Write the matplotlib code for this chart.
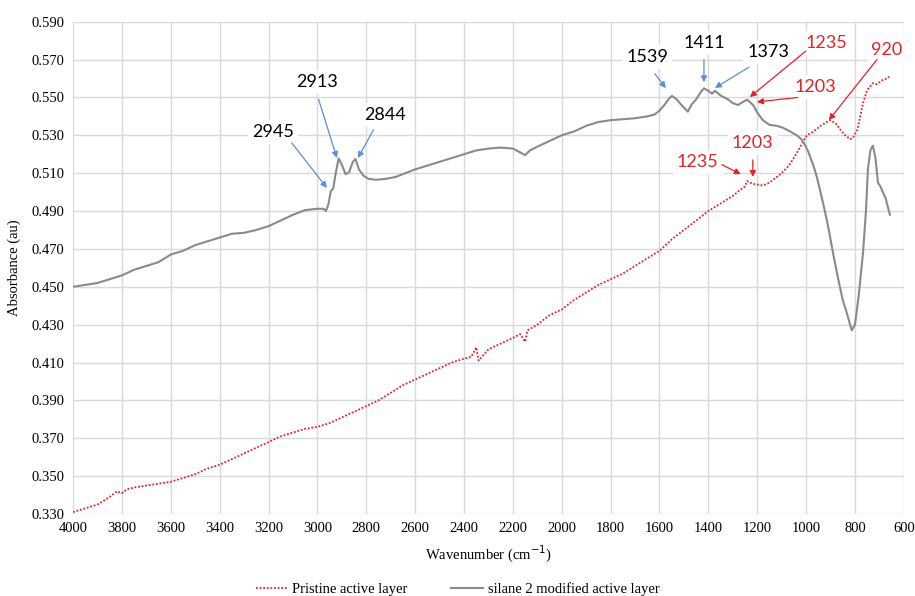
import numpy as np
import matplotlib
matplotlib.use("Agg")
import matplotlib.pyplot as plt

# silane 2 modified active layer (gray)
wn_silane = [4000, 3950, 3900, 3850, 3800, 3750, 3700, 3650, 3600, 3550, 3500, 3450,
             3400, 3350, 3300, 3250, 3200, 3150, 3100, 3050, 3000, 2975, 2965, 2955,
             2945, 2935, 2925, 2913, 2900, 2885, 2870, 2855, 2844, 2830, 2810, 2790,
             2760, 2720, 2680, 2640, 2600, 2550, 2500, 2450, 2400, 2350, 2300, 2250,
             2200, 2170, 2150, 2130, 2100, 2050, 2000, 1950, 1900, 1850, 1800, 1750,
             1700, 1650, 1620, 1600, 1580, 1560, 1549, 1530, 1510, 1495, 1484, 1470,
             1450, 1430, 1418, 1400, 1385, 1373, 1350, 1320, 1300, 1279, 1260, 1242,
             1225, 1214, 1200, 1177, 1150, 1120, 1095, 1065, 1038, 1020, 1009, 990,
             970, 956, 930, 910, 890, 870, 850, 833, 820, 813, 800, 785, 767, 755,
             747, 737, 727, 716, 706, 696, 686, 675, 665, 657]
abs_silane = [0.450, 0.451, 0.452, 0.454, 0.456, 0.459, 0.461, 0.463, 0.467, 0.469, 0.472, 0.474,
              0.476, 0.478, 0.4785, 0.480, 0.482, 0.485, 0.488, 0.4905, 0.4912, 0.4912, 0.4900, 0.4935,
              0.5005, 0.502, 0.510, 0.5178, 0.5145, 0.5095, 0.5105, 0.5160, 0.5175, 0.512, 0.5085, 0.507,
              0.5065, 0.507, 0.508, 0.510, 0.512, 0.514, 0.516, 0.518, 0.520, 0.522, 0.523, 0.5235,
              0.523, 0.521, 0.5195, 0.522, 0.524, 0.527, 0.530, 0.532, 0.535, 0.537, 0.538, 0.5385,
              0.539, 0.540, 0.541, 0.543, 0.546, 0.5495, 0.5508, 0.549, 0.546, 0.544, 0.5425, 0.546,
              0.549, 0.553, 0.5548, 0.5535, 0.552, 0.5535, 0.551, 0.549, 0.547, 0.546, 0.5475, 0.5488,
              0.547, 0.5455, 0.542, 0.538, 0.5355, 0.535, 0.534, 0.532, 0.530, 0.528, 0.526, 0.521,
              0.514, 0.508, 0.494, 0.482, 0.468, 0.455, 0.443, 0.436, 0.430, 0.427, 0.430, 0.445, 0.468, 0.490,
              0.512, 0.522, 0.5245, 0.518, 0.505, 0.503, 0.500, 0.497, 0.492, 0.488]

# pristine active layer (red dotted)
wn_pristine = [4000, 3950, 3900, 3850, 3820, 3800, 3780, 3750, 3700, 3650, 3600, 3550,
               3500, 3450, 3400, 3350, 3300, 3250, 3200, 3150, 3100, 3050, 3000, 2950,
               2900, 2850, 2800, 2750, 2700, 2650, 2600, 2550, 2500, 2450, 2400, 2370,
               2350, 2340, 2320, 2300, 2250, 2200, 2170, 2150, 2140, 2100, 2050, 2000,
               1950, 1900, 1850, 1800, 1750, 1700, 1650, 1600, 1550, 1500, 1450, 1400,
               1350, 1300, 1271, 1250, 1242, 1230, 1210, 1177, 1150, 1100, 1070, 1038,
               1015, 997, 970, 940, 903, 880, 860, 840, 820, 809, 790, 767, 750, 727,
               710, 690, 669, 660]
abs_pristine = [0.331, 0.333, 0.335, 0.339, 0.342, 0.341, 0.343, 0.344, 0.345, 0.346, 0.347, 0.349,
                0.351, 0.354, 0.356, 0.359, 0.362, 0.365, 0.368, 0.371, 0.373, 0.375, 0.376, 0.378,
                0.381, 0.384, 0.387, 0.390, 0.394, 0.398, 0.401, 0.404, 0.407, 0.410, 0.412, 0.413,
                0.418, 0.411, 0.414, 0.417, 0.420, 0.423, 0.425, 0.421, 0.427, 0.430, 0.435, 0.438,
                0.443, 0.447, 0.451, 0.454, 0.457, 0.461, 0.465, 0.469, 0.475, 0.480, 0.485, 0.490,
                0.494, 0.498, 0.501, 0.503, 0.5058, 0.505, 0.5042, 0.5035, 0.505, 0.510, 0.514, 0.5206,
                0.526, 0.530, 0.532, 0.535, 0.538, 0.5365, 0.533, 0.530, 0.528, 0.5285, 0.533, 0.547, 0.554, 0.5575,
                0.557, 0.559, 0.560, 0.561]

# peak labels: (text, text x, text y, arrow tail x, tail y, head x, head y)
labels_silane = [
    ("2945", 3182, 0.5317, 3105, 0.5260, 2961, 0.5022),
    ("2913", 3000, 0.5580, 2995, 0.5490, 2920, 0.5180),
    ("2844", 2723, 0.5407, 2770, 0.5330, 2834, 0.5180),
    ("1539", 1651, 0.5714, 1619, 0.5625, 1574, 0.5549),
    ("1411", 1418, 0.5790, 1418, 0.5700, 1418, 0.5580),
    ("1373", 1156, 0.5740, 1234, 0.5660, 1373, 0.5550),
]
labels_pristine = [
    ("1235", 915, 0.5787, 1001, 0.5745, 1230, 0.5502),
    ("1203", 964, 0.5555, 1034, 0.5500, 1201, 0.5476),
    ("920", 669, 0.5750, 710, 0.5700, 907, 0.5380),
    ("1203", 1218, 0.5260, 1218, 0.5170, 1218, 0.5080),
    ("1235", 1443, 0.5160, 1345, 0.5145, 1267, 0.5095),
]

gray = "#8a8a8a"
red = "#e32228"
blue = "#5b8fd6"

fig = plt.figure(figsize=(9.15, 5.96), dpi=100)
ax = fig.add_axes([0.0798, 0.1376, 0.908, 0.8260])

ax.plot(wn_pristine, abs_pristine, color=red, lw=1.3, ls=(0, (1, 1)), label="Pristine active layer")
ax.plot(wn_silane, abs_silane, color=gray, lw=1.5, label="silane 2 modified active layer")

ax.set_xlim(4000, 600)
ax.set_ylim(0.330, 0.590)
ax.set_xticks(np.arange(4000, 599, -200))
ax.set_yticks(np.arange(0.330, 0.5901, 0.020))
ax.set_yticklabels(["%.3f" % v for v in np.arange(0.330, 0.5901, 0.020)])
ax.grid(True, color="#d9d9d9", lw=1)
ax.set_axisbelow(True)
for s in ax.spines.values():
    s.set_visible(False)
ax.tick_params(length=0, labelsize=10.5, pad=6)
for t in ax.get_xticklabels() + ax.get_yticklabels():
    t.set_fontfamily("Liberation Serif")

ax.set_xlabel("Wavenumber (cm$^{-1}$)", family="Liberation Serif", fontsize=10.5, labelpad=6)
ax.set_ylabel("Absorbance (au)", family="Liberation Serif", fontsize=10.5, labelpad=8)

for lab, col, tcol in [(labels_silane, blue, "black"), (labels_pristine, red, red)]:
    for txt, tx, ty, ax0, ay0, hx, hy in lab:
        ax.text(tx, ty, txt, ha="center", va="center", fontsize=13, color=tcol,
                family="Lato", bbox=dict(fc="white", ec="none", pad=3), zorder=5)
        ax.annotate("", xy=(hx, hy), xytext=(ax0, ay0),
                    arrowprops=dict(arrowstyle="-|>", color=col, lw=0.9,
                                    mutation_scale=9, shrinkA=0, shrinkB=0), zorder=6)

leg = fig.legend(loc="center", bbox_to_anchor=(0.5, 1 - 589 / 596), ncol=2, frameon=False,
                 prop={"family": "Liberation Serif", "size": 10.5}, handlelength=2.2,
                 columnspacing=3, handletextpad=0.3)

fig.savefig("out.png", dpi=100)
